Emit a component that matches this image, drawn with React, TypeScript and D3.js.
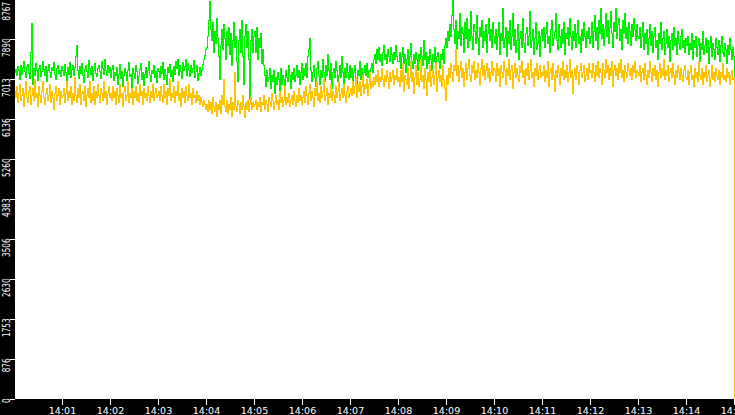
import React from "react";
import * as d3 from "d3";

const W = 735;
const H = 415;
const startTime = new Date(2024, 0, 1, 14, 0, 0);
const endTime = new Date(2024, 0, 1, 14, 15, 0);

// Green series, one row of 48 samples per minute (1.25 s apart)
const greenValues: number[] = [
  7150, 7230, 7080, 7290, 7200, 7010, 7310, 7120, 7260, 7390, 7180, 7050, 7280, 7330, 7140, 7020,
  7600, 8240, 6900, 7250, 7100, 7360, 7190, 6980, 7240, 7310, 7060, 7170, 7400, 7220, 7090, 7280,
  6950, 7200, 7330, 7150, 7040, 7270, 7190, 7380, 7110, 7000, 7250, 7320, 7130, 7210, 7060, 7290,

  7200, 7080, 7330, 7150, 6960, 7270, 7120, 7380, 7050, 7230, 7310, 7100, 7260, 7500, 7750, 7190,
  7020, 7290, 7140, 7360, 7080, 6930, 7220, 7300, 7170, 7050, 7410, 7240, 7110, 7280, 6990, 7200,
  7350, 7130, 7060, 7250, 7320, 7180, 7020, 7390, 7240, 7110, 7450, 7200, 7080, 7300, 7160, 7270,

  7050, 7220, 7310, 6990, 7150, 7080, 7260, 6900, 7120, 7340, 7030, 7180, 6850, 7090, 7250, 7160,
  6970, 7200, 7380, 7060, 7110, 6790, 7240, 7140, 7020, 7300, 7180, 6920, 7070, 7230, 7350, 7010,
  7150, 6880, 7120, 7270, 7040, 7190, 7400, 7090, 6960, 7210, 7130, 7320, 7050, 7170, 6940, 7250,

  7180, 7050, 7290, 7130, 7370, 7010, 7220, 7100, 6900, 7260, 7150, 7330, 7060, 7200, 6950, 7280,
  7120, 7400, 7250, 7450, 7090, 7320, 7180, 7030, 7380, 7210, 7290, 7440, 7100, 7350, 7200, 7060,
  7310, 7150, 7250, 7420, 7050, 7180, 7300, 6980, 7140, 7260, 7090, 7200, 7330, 7450, 7520, 7650,

  7700, 7950, 8300, 8720, 8100, 7850, 8250, 7600, 8050, 7800, 8350, 7900, 7500, 7000, 7750, 8100,
  7650, 8200, 7900, 7450, 8050, 7750, 8150, 7550, 8000, 7300, 7850, 8250, 7700, 7950, 7400, 6950,
  7850, 8100, 7600, 8300, 7500, 6900, 7950, 8200, 7700, 8050, 7450, 6570, 7850, 8100, 7600, 7950,

  8050, 7600, 8150, 7450, 7900, 7700, 8000, 7350, 7650, 7300, 7100, 6850, 7200, 6950, 7050, 7250,
  6800, 7100, 6950, 7200, 6700, 7050, 6900, 7150, 7000, 6750, 7250, 6900, 7100, 7000, 6850, 7200,
  7050, 6950, 7300, 7100, 6800, 7150, 7000, 7250, 6950, 7100, 7300, 7050, 7200, 6900, 7150, 7350,

  7000, 7250, 7100, 7350, 7050, 7500, 7650, 7900, 7200, 6950, 7150, 7300, 7050, 6850, 7250, 7400,
  7100, 6900, 7200, 7050, 7450, 7150, 6950, 7300, 7100, 7550, 7200, 7000, 7350, 6800, 7150, 7250,
  7050, 7400, 7200, 6950, 7100, 7300, 7050, 7500, 7150, 6900, 7250, 7050, 7350, 7150, 7000, 7300,

  7050, 7250, 6950, 7150, 7300, 7050, 6850, 7200, 7100, 7400, 7000, 7250, 6950, 7150, 7300, 7100,
  7350, 7050, 7200, 6900, 7250, 7350, 7150, 7450, 7550, 7350, 7650, 7450, 7700, 7400, 7550, 7300,
  7600, 7750, 7450, 7550, 7350, 7650, 7500, 7400, 7700, 7550, 7350, 7600, 7450, 7750, 7500, 7400,

  7400, 7600, 7250, 7500, 7700, 7350, 7550, 7150, 7450, 7650, 7300, 7500, 7800, 7400, 7250, 7550,
  7350, 7600, 7450, 7200, 7550, 7400, 7700, 7500, 7300, 7850, 7450, 7600, 7250, 7500, 7350, 7650,
  7450, 7200, 7550, 7400, 7700, 7300, 7500, 7600, 7400, 7250, 7550, 7450, 7650, 7350, 7750, 7900,

  7700, 8050, 7850, 8200, 7950, 8400, 8767, 8100, 7800, 8300, 7650, 8050, 7900, 8450, 7750, 8150,
  8000, 7600, 8250, 7900, 8350, 7700, 8100, 7850, 8500, 7950, 7650, 8200, 8050, 7800, 8400, 7900,
  7550, 8150, 7950, 8300, 7700, 8050, 7850, 8200, 7600, 8000, 8350, 7850, 8100, 7700, 8250, 7950,

  7800, 8100, 7650, 7950, 8250, 7550, 8000, 7850, 8550, 7700, 7900, 8150, 7500, 8050, 7800, 8300,
  7650, 7950, 8450, 7750, 8100, 7600, 7850, 8200, 7450, 7900, 8050, 7700, 8350, 7800, 7600, 8000,
  8150, 7750, 7950, 8500, 7700, 7850, 8100, 7550, 7900, 8250, 7650, 7800, 8050, 7500, 7950, 8100,

  7850, 8150, 7700, 8000, 8250, 7800, 7950, 7600, 8100, 8300, 7750, 7900, 8050, 8450, 7850, 7650,
  8200, 7950, 7700, 8100, 7800, 8250, 7550, 8000, 7900, 8150, 7750, 8350, 7950, 7650, 8050, 7850,
  8200, 7700, 8000, 8300, 7800, 7950, 7600, 8100, 7850, 8250, 7950, 7700, 8050, 7900, 8150, 7800,

  7950, 8250, 7700, 8050, 8400, 7850, 8150, 7650, 8300, 8000, 8550, 7900, 8200, 7750, 8100, 8450,
  7950, 8300, 7800, 8150, 8500, 8000, 7700, 8250, 8050, 8550, 7900, 8200, 8350, 7850, 8100, 7650,
  8300, 8000, 8450, 7900, 8150, 7800, 8250, 8050, 7750, 8200, 7950, 8350, 8100, 7850, 8200, 7950,

  7900, 8150, 7700, 7950, 8250, 7650, 8000, 7800, 8100, 7550, 7900, 8200, 7750, 8050, 7600, 7950,
  8150, 7700, 7850, 7450, 8000, 7800, 8250, 7650, 7900, 8050, 7550, 7800, 8100, 7700, 7950, 7400,
  7850, 8000, 7650, 8150, 7750, 7900, 7550, 8050, 7800, 7650, 7950, 8100, 7700, 7850, 7600, 7900,

  7750, 7950, 7550, 7800, 7650, 8000, 7450, 7850, 7700, 7950, 7500, 7750, 7900, 7400, 7800, 7650,
  8050, 7550, 7750, 7900, 7600, 7850, 7350, 7700, 7950, 7500, 7800, 7650, 7450, 7900, 7700, 7550,
  7850, 7400, 7750, 7950, 7600, 7500, 7800, 7650, 7350, 7750, 7550, 7900, 7650, 7450, 7700, 7500,

  3750,
];

// Yellow series
const yellowValues: number[] = [
  6750, 6600, 6850, 6500, 6700, 6900, 6550, 6650, 6800, 6400, 6700, 6950, 6600, 6500, 6750, 6850,
  6450, 6650, 6800, 6550, 7000, 6600, 6700, 6400, 6850, 6650, 6500, 6750, 6950, 6600, 6450, 6700,
  6800, 6550, 6650, 6900, 6500, 6750, 6600, 6350, 6700, 6850, 6550, 6650, 6800, 6450, 6750, 6600,

  6650, 6800, 6500, 6700, 6950, 6550, 6750, 6600, 6850, 6450, 6700, 6550, 7050, 6650, 6500, 6800,
  6600, 6900, 6450, 6700, 6750, 6550, 6850, 6400, 6650, 6800, 6600, 6950, 6500, 6700, 6550, 6850,
  6450, 6750, 6600, 6900, 6650, 6500, 6800, 6700, 6550, 6950, 6600, 6750, 6450, 6700, 6850, 6600,

  6700, 6550, 6850, 6600, 6750, 6450, 6800, 6650, 6500, 6900, 6600, 6700, 6400, 6750, 6850, 6550,
  6650, 6950, 6500, 6700, 6600, 6800, 6450, 6750, 6600, 6850, 6550, 6700, 6500, 6900, 6650, 6750,
  6450, 6800, 6600, 6700, 6550, 6850, 6650, 6500, 6750, 6600, 6900, 6550, 6700, 6800, 6600, 6650,

  6750, 6550, 6850, 6650, 6500, 6900, 6600, 6750, 6450, 6800, 6650, 7000, 6550, 6700, 6600, 6850,
  6500, 6750, 6650, 6950, 6550, 6700, 6400, 6800, 6600, 6750, 6500, 6850, 6650, 6550, 6900, 6600,
  6700, 6450, 6800, 6600, 6650, 6500, 6750, 6550, 6650, 6450, 6600, 6500, 6400, 6550, 6450, 6350,

  6450, 6300, 6550, 6350, 6500, 6250, 6600, 6400, 6300, 6500, 6200, 6450, 6350, 6550, 6250, 6650,
  6450, 7000, 6400, 6300, 6550, 6250, 6450, 6350, 6600, 6200, 6500, 6350, 7150, 6400, 6300, 6550,
  6450, 6250, 6500, 6350, 6650, 6400, 6180, 6500, 6350, 6550, 6300, 6450, 6600, 6350, 6500, 6400,

  6450, 6550, 6350, 6500, 6400, 6600, 6300, 6500, 6450, 6650, 6350, 6550, 6450, 6300, 6600, 6500,
  6400, 6700, 6550, 6350, 6500, 6650, 6450, 6550, 6350, 6750, 6500, 6600, 6400, 6550, 6850, 6450,
  6600, 6500, 6700, 6400, 6550, 6650, 6450, 6750, 6550, 6400, 6650, 6500, 6800, 6550, 6650, 6450,

  6600, 6750, 6500, 6850, 6650, 6450, 6700, 6900, 6550, 6750, 6600, 6400, 6800, 6650, 6950, 6550,
  6700, 6500, 6850, 6600, 6750, 7000, 6550, 6650, 6800, 6450, 6700, 6600, 6900, 6550, 6750, 6650,
  6500, 6850, 6600, 6750, 6950, 6550, 6700, 6800, 6600, 6900, 6650, 6500, 6750, 6850, 6600, 6700,

  6800, 6650, 6950, 6700, 6850, 7050, 6600, 6900, 6750, 6950, 6650, 6850, 7100, 6700, 6900, 6800,
  7000, 6650, 6900, 7150, 6800, 6950, 6850, 7050, 6900, 7100, 6950, 7200, 6850, 7050, 6950, 7250,
  7000, 6850, 7100, 6950, 7200, 7050, 6800, 7150, 6950, 7050, 7200, 6900, 7100, 7000, 7250, 6950,

  7050, 6850, 7200, 6950, 7350, 6750, 7100, 7000, 6900, 7250, 6800, 7050, 7400, 6950, 7150, 6700,
  7050, 7300, 6900, 7150, 6850, 7000, 7450, 6950, 7100, 6800, 7250, 7000, 6650, 7150, 6950, 7300,
  6850, 7050, 7200, 6900, 7100, 7350, 6750, 7050, 7200, 6950, 7100, 6850, 7300, 7000, 6800, 6550,

  7100, 6900, 7250, 7050, 7350, 7150, 6950, 7300, 7200, 7650, 7100, 7300, 6950, 7200, 7400, 7050,
  7250, 6850, 7150, 7350, 7000, 7250, 7450, 7100, 6950, 7300, 7150, 7400, 7000, 7200, 7050, 7350,
  7150, 6900, 7250, 7450, 7100, 7300, 7000, 7200, 7350, 7050, 7250, 6950, 7150, 7400, 7100, 7250,

  7200, 6950, 7350, 7100, 7250, 6850, 7300, 7150, 7050, 7400, 7200, 6900, 7250, 7100, 7450, 7000,
  7200, 7300, 6800, 7150, 7350, 7050, 7250, 7100, 6950, 7300, 7150, 7400, 7050, 7200, 6900, 7250,
  7100, 7350, 7000, 7200, 7450, 7050, 7150, 6850, 7250, 7100, 7350, 7000, 7200, 7300, 7050, 7150,

  7100, 7300, 6950, 7200, 7050, 7400, 6850, 7150, 7250, 7000, 7350, 7100, 6750, 7200, 7050, 7300,
  7150, 6900, 7250, 7100, 7400, 7000, 7200, 7050, 7300, 6950, 7150, 7450, 7050, 7200, 6700, 7100,
  7250, 7000, 7300, 7150, 6900, 7200, 7350, 7050, 7150, 7300, 6950, 7100, 7250, 7000, 7350, 7150,

  7200, 7050, 7350, 7150, 6950, 7300, 7100, 7400, 7050, 7250, 7150, 6900, 7350, 7200, 7050, 7450,
  7150, 7300, 7000, 7250, 7100, 7400, 6850, 7200, 7300, 7100, 7250, 7000, 7350, 7150, 7450, 7050,
  7200, 6950, 7300, 7150, 7050, 7350, 7200, 7100, 7250, 7000, 7300, 7150, 7400, 7050, 7200, 7150,

  7100, 7300, 6950, 7150, 7250, 7000, 7350, 7100, 6900, 7200, 7050, 7400, 7150, 6950, 7250, 7100,
  7300, 7000, 7200, 6850, 7150, 7350, 7050, 7250, 7100, 7450, 7000, 7200, 7100, 7300, 6950, 7150,
  7250, 7050, 7350, 7100, 6900, 7200, 7050, 7300, 7150, 7000, 7250, 7100, 6950, 7200, 7300, 7050,

  7000, 7200, 6900, 7150, 7300, 7000, 7100, 6850, 7250, 7050, 7150, 6950, 7400, 7100, 7000, 7250,
  6900, 7150, 7050, 7300, 6950, 7100, 7200, 6850, 7050, 7300, 7000, 7150, 6950, 7250, 7100, 7000,
  7200, 6900, 7150, 7050, 7350, 7000, 7100, 6950, 7250, 7050, 7150, 6900, 7100, 7200, 7000, 7050,

  0,
];

const yTickValues = [0, 876, 1753, 2630, 3506, 4383, 5260, 6136, 7013, 7890, 8767];
const xTickLabels = [
  "14:01", "14:02", "14:03", "14:04", "14:05", "14:06", "14:07", "14:08",
  "14:09", "14:10", "14:11", "14:12", "14:13", "14:14", "14:15",
];

const GREEN = "#00ee00";
const YELLOW = "#ffc400";
const FONT = "'DejaVu Sans', sans-serif";

export default function App() {
  const x = d3.scaleTime().domain([startTime, endTime]).range([14, 734]);
  const y = d3.scaleLinear().domain([0, 8767]).range([399, -1]);

  const mkLine = (vals: number[]) => {
    const step = (endTime.getTime() - startTime.getTime()) / (vals.length - 1);
    const gen = d3
      .line<number>()
      .curve(d3.curveStepAfter)
      .x((_, i) => x(new Date(startTime.getTime() + i * step)) + 0.5)
      .y((d) => Math.floor(y(d)) + 0.5);
    return gen(vals) || "";
  };

  const parseLabel = (s: string) => {
    const [hh, mm] = s.split(":").map(Number);
    return new Date(2024, 0, 1, hh, mm, 0);
  };

  return (
    <svg
      width={W}
      height={H}
      style={{ position: "absolute", left: 0, top: 0, display: "block" }}
    >
      <rect x={0} y={0} width={W} height={H} fill="#ffffff" />
      <path d={mkLine(greenValues)} fill="none" stroke={GREEN} strokeWidth={1} shapeRendering="crispEdges" />
      <path d={mkLine(yellowValues)} fill="none" stroke={YELLOW} strokeWidth={1} shapeRendering="crispEdges" />
      {/* left axis band */}
      <rect x={0} y={0} width={15} height={H} fill="#000000" />
      {/* bottom axis band */}
      <rect x={0} y={399} width={W} height={H - 399} fill="#000000" />
      {yTickValues.map((v) => {
        const ty = Math.floor(y(v));
        const endY = Math.max(ty - 0.5, 2);
        return (
          <g key={"y" + v}>
            <line x1={10} x2={15} y1={ty + 0.5} y2={ty + 0.5} stroke="#ffffff" strokeWidth={1} shapeRendering="crispEdges" />
            <text
              transform={`translate(9.6,${endY}) rotate(-90)`}
              textAnchor="end"
              fill="#ffffff"
              fontFamily={FONT}
              fontSize={10}
              textLength={String(v).length * 4.6}
              lengthAdjust="spacingAndGlyphs"
            >
              {String(v)}
            </text>
          </g>
        );
      })}
      {xTickLabels.map((lab) => {
        const tx = Math.round(x(parseLabel(lab)));
        return (
          <g key={"x" + lab}>
            <line x1={tx + 0.5} x2={tx + 0.5} y1={399} y2={405} stroke="#ffffff" strokeWidth={1} shapeRendering="crispEdges" />
            <text x={tx + 0.5} y={413.5} textAnchor="middle" fill="#ffffff" fontFamily={FONT} fontSize={9.5}>
              {lab}
            </text>
          </g>
        );
      })}
    </svg>
  );
}
